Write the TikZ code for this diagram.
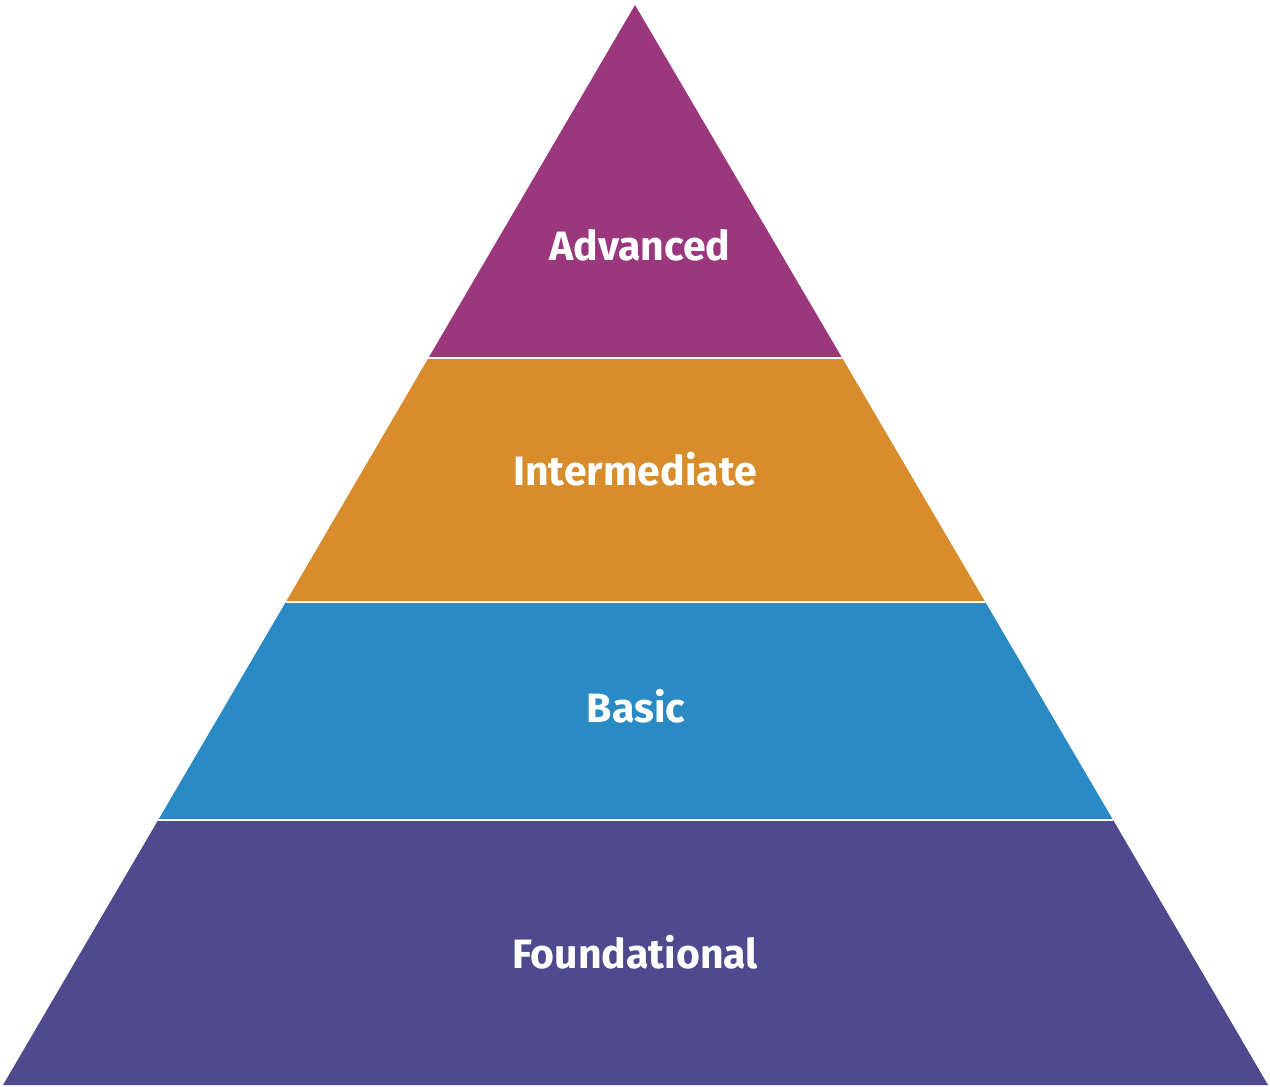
\documentclass[tikz,border=0pt]{standalone}
\usepackage{fontspec}
\setmainfont{Fira Sans}
\definecolor{tierA}{HTML}{9B377C}
\definecolor{tierB}{HTML}{D98C2B}
\definecolor{tierC}{HTML}{2A8AC4}
\definecolor{tierD}{HTML}{4F4A8E}
\begin{document}
\begin{tikzpicture}[x=1pt,y=-1pt,
  tierlabel/.style={text=white,font=\bfseries\fontsize{41}{49}\selectfont,inner sep=0pt,anchor=base}]
\useasboundingbox (0,0) rectangle (1270,1087);
% pyramid corners
\coordinate (apex) at (635,5);
\coordinate (bl) at (3,1085);
\coordinate (br) at (1268,1085);
% band boundaries on the left and right edges
\coordinate (l1) at (428.4,358);
\coordinate (r1) at (842.2,358);
\coordinate (l2) at (285.8,602);
\coordinate (r2) at (985.3,602);
\coordinate (l3) at (158.2,820);
\coordinate (r3) at (1113.1,820);
\fill[tierD] (l3) -- (r3) -- (br) -- (bl) -- cycle;
\fill[tierC] (l2) -- (r2) -- (r3) -- (l3) -- cycle;
\fill[tierB] (l1) -- (r1) -- (r2) -- (l2) -- cycle;
\fill[tierA] (apex) -- (r1) -- (l1) -- cycle;
\draw[white,line width=1.2pt] (l1) -- (r1);
\draw[white,line width=1.2pt] (l2) -- (r2);
\draw[white,line width=1.2pt] (l3) -- (r3);
\node[tierlabel] (adv) at (640,260) {Advanced};
\node[tierlabel] (int) at (635,485) {Intermediate};
\node[tierlabel] (bas) at (636,722) {Basic};
\node[tierlabel] (fnd) at (635,968) {Foundational};
\end{tikzpicture}
\end{document}
